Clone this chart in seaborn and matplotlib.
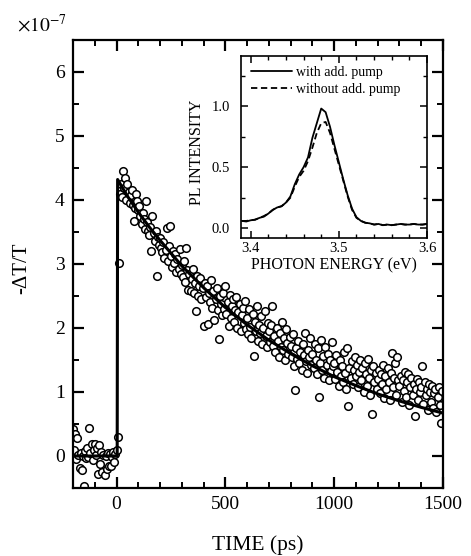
import numpy as np
import pandas as pd
import matplotlib
matplotlib.use("Agg")
import matplotlib.pyplot as plt
import seaborn as sns
from matplotlib.ticker import MultipleLocator

# ---------------- data ----------------
time_ps = [
    -200, -195, -190, -185, -180, -175, -170, -165, -160, -155, -150, -145, -140, -135, -130, -125, -120, -115, -110, -105,
    -100, -95, -90, -85, -80, -75, -70, -65, -60, -55, -50, -45, -40, -35, -30, -25, -20, -15, -10, -5,
    0, 5, 10, 15, 20, 25, 30, 35, 40, 45, 50, 55, 60, 65, 70, 75, 80, 85, 90, 95,
    100, 105, 110, 115, 120, 125, 130, 135, 140, 145, 150, 155, 160, 165, 170, 175, 180, 185, 190, 195,
    200, 205, 210, 215, 220, 225, 230, 235, 240, 245, 250, 255, 260, 265, 270, 275, 280, 285, 290, 295,
    300, 305, 310, 315, 320, 325, 330, 335, 340, 345, 350, 355, 360, 365, 370, 375, 380, 385, 390, 395,
    400, 405, 410, 415, 420, 425, 430, 435, 440, 445, 450, 455, 460, 465, 470, 475, 480, 485, 490, 495,
    500, 505, 510, 515, 520, 525, 530, 535, 540, 545, 550, 555, 560, 565, 570, 575, 580, 585, 590, 595,
    600, 605, 610, 615, 620, 625, 630, 635, 640, 645, 650, 655, 660, 665, 670, 675, 680, 685, 690, 695,
    700, 705, 710, 715, 720, 725, 730, 735, 740, 745, 750, 755, 760, 765, 770, 775, 780, 785, 790, 795,
    800, 805, 810, 815, 820, 825, 830, 835, 840, 845, 850, 855, 860, 865, 870, 875, 880, 885, 890, 895,
    900, 905, 910, 915, 920, 925, 930, 935, 940, 945, 950, 955, 960, 965, 970, 975, 980, 985, 990, 995,
    1000, 1005, 1010, 1015, 1020, 1025, 1030, 1035, 1040, 1045, 1050, 1055, 1060, 1065, 1070, 1075, 1080, 1085, 1090, 1095,
    1100, 1105, 1110, 1115, 1120, 1125, 1130, 1135, 1140, 1145, 1150, 1155, 1160, 1165, 1170, 1175, 1180, 1185, 1190, 1195,
    1200, 1205, 1210, 1215, 1220, 1225, 1230, 1235, 1240, 1245, 1250, 1255, 1260, 1265, 1270, 1275, 1280, 1285, 1290, 1295,
    1300, 1305, 1310, 1315, 1320, 1325, 1330, 1335, 1340, 1345, 1350, 1355, 1360, 1365, 1370, 1375, 1380, 1385, 1390, 1395,
    1400, 1405, 1410, 1415, 1420, 1425, 1430, 1435, 1440, 1445, 1450, 1455, 1460, 1465, 1470, 1475, 1480, 1485, 1490, 1495,
]

delta_t_over_t = [  # units of 1e-7
    0.42, 0.10, 0.34, -0.05, 0.28, 0.02, -0.18, 0.05, -0.22, 0.00, -0.47, 0.08, -0.03, 0.12, -0.02, 0.44, 0.05, 0.18, -0.06, 0.10,
    0.18, 0.02, 0.13, -0.28, 0.17, -0.12, 0.06, -0.25, 0.02, -0.30, 0.00, -0.20, 0.04, -0.16, 0.03, -0.15, -0.02, 0.06, -0.10, 0.03,
    0.10, 0.30, 3.02, 4.10, 4.25, 4.05, 4.45, 4.18, 4.35, 4.00, 4.25, 4.12, 3.95, 4.08, 4.15, 3.92, 3.67, 3.88, 4.10, 3.98,
    3.85, 3.90, 3.75, 3.62, 3.80, 3.70, 3.55, 3.98, 3.66, 3.52, 3.45, 3.58, 3.20, 3.75, 3.48, 3.36, 3.52, 2.81, 3.42, 3.30,
    3.40, 3.25, 3.18, 3.35, 3.10, 3.22, 3.56, 3.05, 3.28, 3.59, 3.12, 2.95, 3.20, 3.02, 3.15, 2.88, 3.08, 2.92, 3.24, 2.85,
    2.98, 2.80, 3.05, 2.72, 3.25, 2.90, 2.60, 2.85, 2.58, 2.76, 2.92, 2.55, 2.70, 2.27, 2.82, 2.50, 2.66, 2.78, 2.45, 2.62,
    2.03, 2.70, 2.48, 2.66, 2.06, 2.55, 2.40, 2.75, 2.32, 2.58, 2.12, 2.45, 2.62, 2.28, 1.83, 2.50, 2.38, 2.20, 2.55, 2.30,
    2.66, 2.22, 2.40, 2.03, 2.52, 2.15, 2.35, 2.45, 2.10, 2.28, 2.48, 2.00, 2.25, 2.38, 1.95, 2.20, 2.32, 2.08, 2.42, 1.98,
    2.15, 1.90, 2.30, 2.02, 1.85, 2.22, 1.56, 2.10, 1.95, 2.35, 1.80, 2.05, 1.92, 2.18, 1.75, 2.00, 2.26, 1.88, 1.70, 2.08,
    1.95, 1.78, 2.05, 2.34, 1.72, 1.88, 1.62, 2.00, 1.80, 1.55, 1.92, 1.70, 2.10, 1.65, 1.84, 1.50, 1.98, 1.76, 1.60, 1.86,
    1.72, 1.55, 1.90, 1.40, 1.03, 1.68, 1.52, 1.80, 1.45, 1.62, 1.35, 1.75, 1.58, 1.92, 1.48, 1.30, 1.66, 1.54, 1.85, 1.42,
    1.60, 1.38, 1.75, 1.50, 1.28, 1.68, 0.92, 1.45, 1.82, 1.35, 1.56, 1.22, 1.70, 1.42, 1.60, 1.18, 1.50, 1.33, 1.78, 1.40,
    1.45, 1.20, 1.58, 1.32, 1.10, 1.50, 1.25, 1.40, 1.15, 1.62, 1.30, 1.05, 1.69, 0.78, 1.38, 1.22, 1.48, 1.12, 1.35, 1.55,
    1.25, 1.42, 1.08, 1.32, 1.50, 1.18, 1.38, 1.00, 1.45, 1.28, 1.10, 1.52, 1.22, 0.95, 1.35, 0.66, 1.40, 1.15, 1.30, 1.05,
    1.20, 1.35, 0.98, 1.28, 1.12, 1.42, 0.90, 1.25, 1.05, 1.38, 1.15, 0.88, 1.30, 1.61, 1.08, 1.22, 1.45, 0.95, 1.55, 1.18,
    1.10, 1.25, 0.85, 1.18, 1.02, 1.32, 0.92, 1.15, 1.28, 0.80, 1.08, 1.22, 0.95, 1.12, 0.63, 1.05, 1.20, 0.88, 1.15, 1.00,
    1.08, 1.41, 0.82, 1.15, 0.95, 1.05, 0.72, 1.12, 1.00, 0.85, 1.10, 0.75, 0.98, 1.05, 0.68, 0.92, 1.08, 0.80, 0.52, 1.02,
]

fit_time_ps = [-200, 3, 5, 50, 100, 150, 200, 300, 400, 500, 600, 700, 800, 900, 1000, 1100, 1200, 1300, 1400, 1500]
fit_delta = [0.0, 0.0, 4.32, 4.06, 3.81, 3.58, 3.37, 2.97, 2.63, 2.32, 2.05, 1.81, 1.60, 1.41, 1.24, 1.10, 0.97, 0.86, 0.76, 0.67]

photon_energy_ev = [
    3.390, 3.395, 3.400, 3.405, 3.410, 3.415, 3.420, 3.425, 3.430, 3.435, 3.440, 3.445, 3.450, 3.455, 3.460,
    3.465, 3.470, 3.475, 3.480, 3.485, 3.490, 3.495, 3.500, 3.505, 3.510, 3.515, 3.520, 3.525, 3.530, 3.535,
    3.540, 3.545, 3.550, 3.555, 3.560, 3.565, 3.570, 3.575, 3.580, 3.585, 3.590, 3.595, 3.600,
]
pl_with_pump = [
    0.060, 0.055, 0.065, 0.070, 0.085, 0.095, 0.120, 0.150, 0.170, 0.180, 0.210, 0.260, 0.360, 0.440, 0.500,
    0.580, 0.740, 0.860, 0.980, 0.950, 0.830, 0.680, 0.540, 0.400, 0.270, 0.160, 0.090, 0.060, 0.045, 0.040,
    0.030, 0.035, 0.025, 0.030, 0.025, 0.030, 0.035, 0.030, 0.030, 0.035, 0.030, 0.030, 0.035,
]
pl_without_pump = [
    0.060, 0.060, 0.065, 0.070, 0.085, 0.100, 0.120, 0.150, 0.170, 0.180, 0.210, 0.250, 0.340, 0.420, 0.470,
    0.550, 0.660, 0.780, 0.860, 0.870, 0.780, 0.650, 0.520, 0.390, 0.260, 0.150, 0.085, 0.060, 0.045, 0.040,
    0.030, 0.035, 0.025, 0.030, 0.025, 0.030, 0.035, 0.030, 0.030, 0.035, 0.030, 0.030, 0.035,
]

# ---------------- style ----------------
sns.set_style("ticks")
plt.rcParams["font.family"] = ["Liberation Serif", "DejaVu Serif"]
plt.rcParams["mathtext.fontset"] = "stix"
for k in ["axes.edgecolor", "text.color", "xtick.color", "ytick.color", "axes.labelcolor"]:
    plt.rcParams[k] = "black"

fig = plt.figure(figsize=(4.71, 5.56), dpi=100)

# ---------------- main axes ----------------
ax = fig.add_axes([73 / 471, 1 - 488 / 556, 370 / 471, 448 / 556])
df = pd.DataFrame({"time": time_ps, "dtt": delta_t_over_t})
sns.scatterplot(data=df, x="time", y="dtt", ax=ax, marker="o", s=30,
                color="white", edgecolor="black", linewidth=1.1, zorder=2, legend=False)
fit_df = pd.DataFrame({"time": fit_time_ps, "dtt": fit_delta})
sns.lineplot(data=fit_df, x="time", y="dtt", ax=ax, color="black", lw=2.2,
             sort=False, estimator=None, zorder=3)

ax.set_xlim(-200, 1500)
ax.set_ylim(-0.5, 6.5)
ax.xaxis.set_major_locator(MultipleLocator(500))
ax.xaxis.set_minor_locator(MultipleLocator(100))
ax.yaxis.set_major_locator(MultipleLocator(1))
ax.yaxis.set_minor_locator(MultipleLocator(0.5))
ax.tick_params(which="both", direction="in", top=True, right=True, labelsize=14)
ax.tick_params(which="major", length=8, width=1.6, pad=6)
ax.tick_params(which="minor", length=4.5, width=1.4)
for sp in ax.spines.values():
    sp.set_linewidth(1.6)
ax.set_xlabel("TIME (ps)", fontsize=15.5, va="center")
ax.xaxis.set_label_coords(0.5, -0.127)
ax.set_ylabel("-\u0394T/T", fontsize=15, va="center")
ax.yaxis.set_label_coords(-0.138, 0.491)
fig.text(17 / 471, 1 - 32 / 556, r"$\times10^{-7}$", ha="left", va="baseline", fontsize=14)

# ---------------- inset ----------------
ax2 = fig.add_axes([241 / 471, 1 - 238 / 556, 186 / 471, 182 / 556])
sns.lineplot(x=photon_energy_ev, y=pl_with_pump, ax=ax2, color="black", lw=1.3,
             label="with add. pump", sort=False, estimator=None)
sns.lineplot(x=photon_energy_ev, y=pl_without_pump, ax=ax2, color="black", lw=1.3,
             linestyle=(0, (3.5, 2)), label="without add. pump", sort=False, estimator=None)
ax2.set_xlim(3.389, 3.6)
ax2.set_ylim(-0.08, 1.41)
ax2.xaxis.set_major_locator(MultipleLocator(0.1))
ax2.xaxis.set_minor_locator(MultipleLocator(0.02))
ax2.yaxis.set_major_locator(MultipleLocator(0.5))
ax2.yaxis.set_minor_locator(MultipleLocator(0.25))
ax2.xaxis.set_major_formatter(matplotlib.ticker.FormatStrFormatter("%.1f"))
ax2.yaxis.set_major_formatter(matplotlib.ticker.FormatStrFormatter("%.1f"))
ax2.tick_params(which="both", direction="in", top=True, right=True, labelsize=10.5)
ax2.tick_params(axis="x", which="major", length=5, width=1.1, pad=3)
ax2.tick_params(axis="y", which="major", length=5, width=1.1, pad=8)
ax2.tick_params(which="minor", length=3, width=1.0)
for sp in ax2.spines.values():
    sp.set_linewidth(1.2)
ax2.set_xlabel("PHOTON ENERGY (eV)", fontsize=11.5, va="center")
ax2.xaxis.set_label_coords(0.5, -0.148)
ax2.set_ylabel("PL INTENSITY", fontsize=11.5, va="center")
ax2.yaxis.set_label_coords(-0.237, 0.47)
ax2.legend(loc="upper left", bbox_to_anchor=(0.055, 0.945), frameon=False, fontsize=10,
           handlelength=2.9, handletextpad=0.3, labelspacing=0.3, borderpad=0, borderaxespad=0)

fig.savefig("out.png", dpi=100)
